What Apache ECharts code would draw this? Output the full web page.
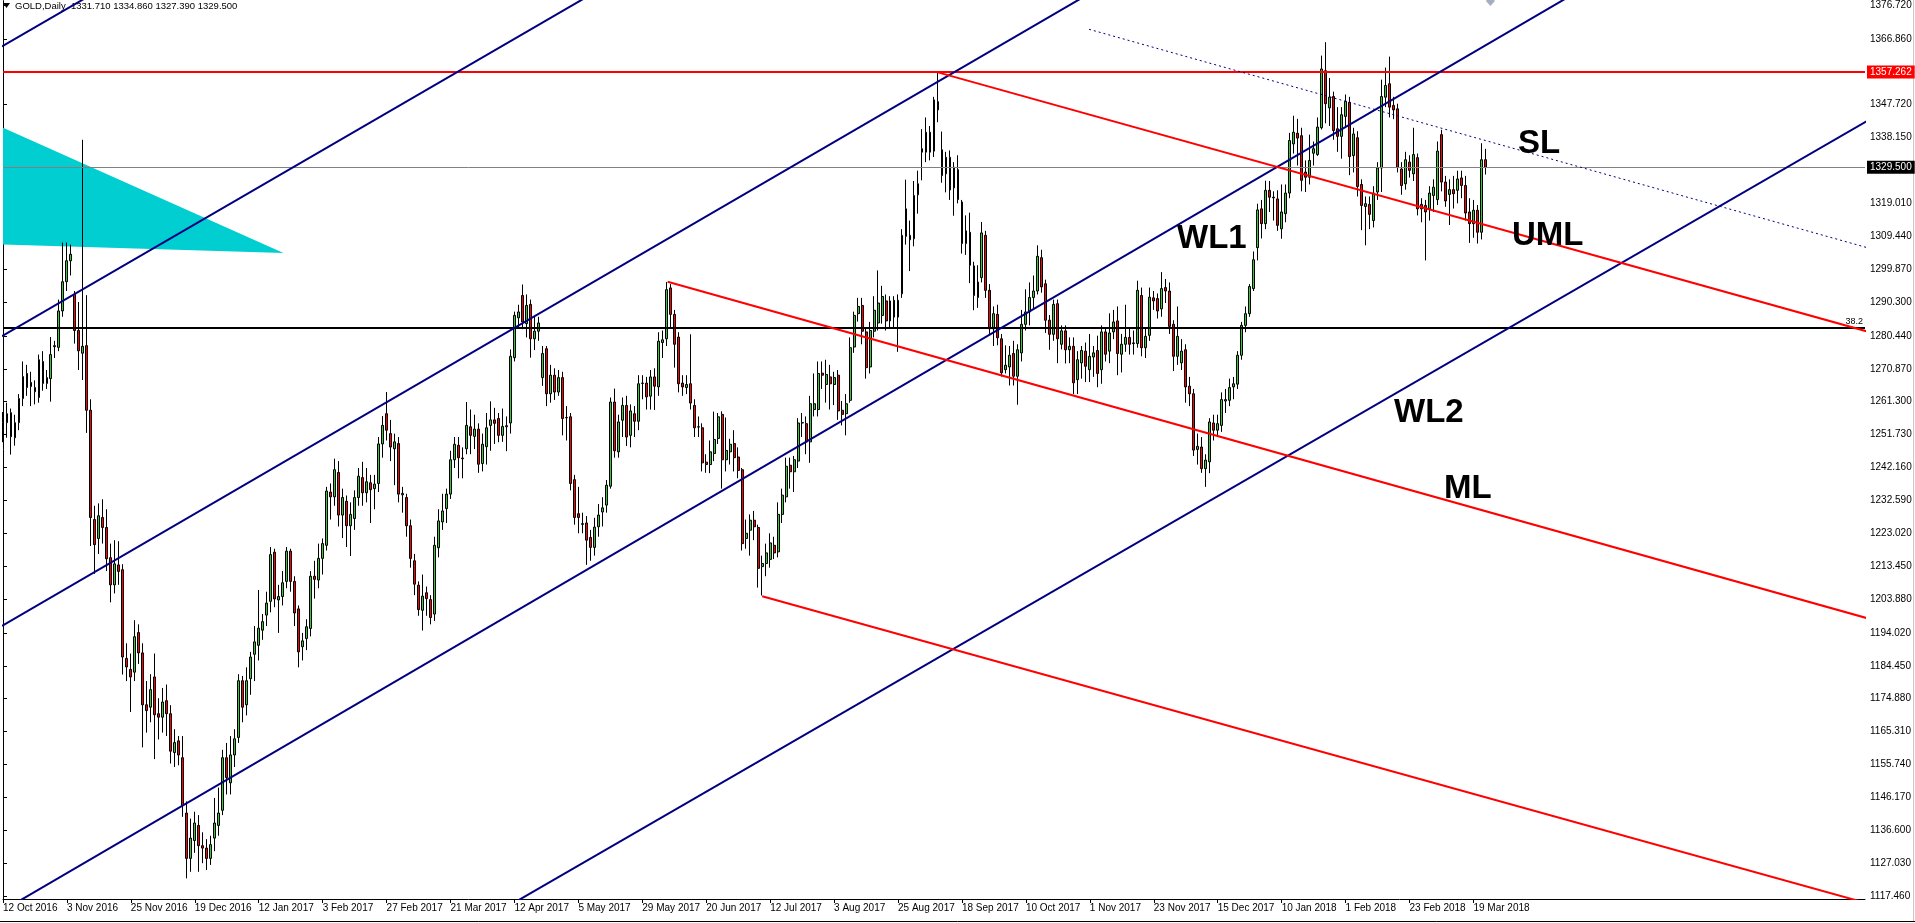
<!DOCTYPE html>
<html>
<head>
<meta charset="utf-8">
<script src="https://cdn.jsdelivr.net/npm/echarts@6/dist/echarts.min.js"></script>
<style>
  html, body { margin: 0; padding: 0; background: #fff; }
  #grafico { width: 1915px; height: 923px; }
</style>
</head>
<body>
<div id="grafico"></div>
<script>
// GOLD daily, 12 Oct 2016 - 22 Mar 2018, [open, close, low, high]
const candles2016 = [
  [1253.0,1255.2,1249.5,1258.3],[1255.2,1257.8,1250.8,1261.0],[1258.1,1251.1,1245.9,1259.3],[1250.8,1255.2,1248.5,1257.5],
  [1255.2,1262.2,1253.0,1263.5],[1262.2,1268.6,1260.0,1273.0],[1269.5,1265.4,1263.0,1272.0],[1265.7,1266.9,1260.0,1270.0],
  [1265.4,1264.2,1260.5,1267.5],[1262.5,1273.5,1261.0,1275.0],[1273.0,1266.6,1264.5,1276.0],[1266.6,1268.3,1265.0,1270.5],
  [1268.0,1275.0,1261.3,1280.1],[1277.3,1277.6,1274.0,1279.0],[1277.1,1287.7,1276.0,1291.0],[1287.7,1296.2,1286.0,1307.6],
  [1296.2,1302.3,1293.5,1307.6],[1302.3,1304.2,1298.0,1307.0],[1292.5,1282.0,1278.2,1293.5],[1282.0,1276.1,1270.5,1290.3],
  [1275.4,1277.4,1267.6,1337.5],[1277.6,1258.8,1252.2,1292.3],[1258.8,1227.6,1219.3,1262.0],[1227.0,1219.7,1211.2,1231.0],
  [1221.5,1228.1,1217.0,1231.7],[1227.6,1224.7,1220.0,1232.9],[1224.7,1215.6,1212.0,1230.0],[1215.9,1208.0,1202.9,1220.0],
  [1208.0,1214.1,1205.5,1221.0],[1213.8,1211.9,1208.0,1220.7],[1212.4,1187.0,1181.9,1214.0],[1186.6,1184.1,1180.0,1191.0],
  [1183.4,1181.2,1171.0,1188.0],[1182.6,1192.9,1180.0,1197.7],[1194.1,1188.2,1185.0,1196.5],[1188.2,1173.1,1160.7,1191.0],
  [1173.1,1171.4,1165.0,1180.0],[1172.4,1177.5,1168.0,1182.0],[1181.2,1170.2,1157.3,1188.0],[1170.5,1169.5,1163.0,1175.0],
  [1169.5,1173.9,1165.0,1178.0],[1174.3,1170.5,1164.0,1179.0],[1170.5,1159.6,1156.0,1173.0],[1159.2,1162.1,1155.0,1166.0],
  [1162.6,1158.5,1155.5,1164.0],[1157.7,1143.8,1140.5,1164.0],[1141.6,1128.4,1122.6,1145.0],[1128.4,1134.3,1124.5,1140.0],
  [1133.6,1138.7,1130.0,1142.0],[1138.0,1132.1,1124.5,1141.0],[1132.1,1131.4,1127.0,1136.0],[1131.4,1128.4,1125.0,1134.0],
  [1128.4,1132.4,1126.5,1135.0],[1134.3,1138.7,1130.5,1146.0],[1138.0,1141.6,1135.0,1149.0],[1142.4,1157.7,1141.0,1160.0],
  [1157.7,1151.9,1147.0,1162.0]
];
const candles2017 = [
  [1150.4,1158.5,1147.0,1164.0],[1158.5,1163.2,1155.0,1166.0],[1163.6,1180.1,1162.0,1182.0],[1180.1,1172.4,1168.0,1181.5],
  [1173.1,1180.1,1170.0,1184.0],[1180.7,1187.0,1176.0,1188.5],[1187.8,1191.4,1180.0,1196.0],[1190.4,1195.4,1186.0,1206.5],
  [1194.8,1197.3,1192.0,1199.5],[1199.2,1202.7,1196.0,1206.0],[1203.2,1216.8,1200.0,1219.0],[1217.5,1203.9,1201.5,1218.5],
  [1203.6,1204.6,1194.0,1208.0],[1204.6,1208.6,1202.0,1212.0],[1209.0,1217.8,1207.0,1219.0],[1217.8,1209.0,1206.0,1218.5],
  [1209.0,1199.8,1196.0,1210.5],[1201.0,1188.5,1184.0,1202.0],[1190.0,1191.7,1186.0,1194.0],[1192.4,1195.8,1189.0,1198.0],
  [1195.3,1210.5,1193.0,1212.0],[1210.5,1209.6,1204.0,1215.0],[1209.4,1215.7,1207.0,1220.0],[1215.7,1220.0,1211.0,1221.5],
  [1219.5,1235.3,1218.0,1236.5],[1235.0,1233.6,1227.0,1237.5],[1233.6,1241.5,1231.0,1244.7],[1240.7,1228.3,1225.0,1244.0],
  [1228.3,1233.4,1221.6,1236.0],[1232.3,1225.2,1219.0,1234.0],[1225.2,1228.5,1216.4,1232.0],[1227.3,1233.4,1224.0,1235.5],
  [1233.4,1239.6,1231.0,1242.0],[1239.2,1234.8,1231.0,1243.8],[1234.8,1238.0,1232.0,1242.0],[1237.7,1235.7,1226.0,1240.0],
  [1236.0,1237.3,1230.0,1240.0],[1237.5,1249.0,1235.0,1251.0],[1249.0,1254.4,1245.0,1257.1],[1257.8,1253.0,1250.0,1264.1],
  [1252.0,1248.1,1244.0,1256.0],[1247.6,1249.6,1237.0,1252.0],[1249.1,1234.4,1232.0,1251.0],[1234.2,1234.6,1229.0,1236.5],
  [1233.4,1225.2,1222.0,1234.5],[1225.2,1215.7,1213.0,1227.0],[1215.0,1208.2,1205.0,1217.0],[1207.9,1200.8,1199.0,1209.0],
  [1200.6,1204.7,1194.7,1211.0],[1205.7,1204.0,1199.0,1207.5],[1203.7,1198.5,1196.5,1205.0],[1199.5,1219.5,1197.5,1222.0],
  [1218.8,1226.6,1216.0,1230.0],[1226.3,1229.5,1224.0,1234.5],[1230.2,1234.4,1226.0,1236.0],[1234.4,1244.4,1233.0,1247.0],
  [1244.4,1248.9,1242.0,1251.0],[1248.6,1245.0,1239.0,1251.0],[1244.9,1244.7,1239.0,1248.0],[1247.6,1254.4,1246.0,1261.2],
  [1254.0,1251.5,1246.0,1259.0],[1251.2,1253.3,1247.5,1257.5],[1253.3,1243.1,1240.6,1255.0],[1243.3,1248.9,1241.0,1252.0],
  [1248.2,1253.7,1243.0,1258.0],[1254.4,1256.0,1247.0,1261.4],[1256.0,1255.0,1249.0,1259.5],[1256.4,1251.5,1249.5,1258.0],
  [1251.5,1254.1,1249.6,1259.3],[1254.0,1254.3,1246.9,1257.0],[1255.1,1274.5,1252.0,1276.5],[1274.1,1286.4,1273.0,1287.5],
  [1285.7,1287.4,1283.0,1289.5],[1292.2,1284.5,1282.4,1295.4],[1284.0,1289.3,1280.0,1292.5],[1289.6,1279.6,1274.1,1291.0],
  [1279.6,1281.8,1276.3,1286.0],[1281.8,1284.2,1279.0,1286.0],[1268.3,1275.3,1265.9,1277.5],[1276.7,1263.6,1260.0,1277.5],
  [1263.6,1269.0,1261.0,1272.0],[1269.0,1264.1,1261.8,1271.0],[1264.1,1268.3,1263.0,1270.5],[1268.3,1256.4,1251.5,1270.0],
  [1256.7,1256.6,1250.0,1260.0],[1256.9,1237.5,1235.5,1258.0],[1238.6,1227.6,1225.5,1240.0],[1228.7,1227.6,1223.0,1236.5],
  [1225.8,1225.6,1223.0,1229.0],[1226.0,1221.0,1213.8,1228.0],[1221.8,1218.9,1215.0,1224.0],[1218.9,1224.8,1216.5,1227.5],
  [1224.9,1228.3,1222.0,1231.5],[1229.2,1230.4,1225.0,1233.5],[1231.2,1237.0,1229.0,1238.5],[1236.7,1261.2,1236.0,1262.5],
  [1261.2,1247.0,1245.0,1265.1],[1246.7,1255.4,1245.0,1257.5],[1255.9,1260.2,1251.0,1262.5],[1260.2,1251.0,1248.4,1263.0],
  [1251.5,1258.6,1248.0,1260.5],[1257.8,1255.6,1251.0,1260.0],[1255.6,1266.5,1253.0,1269.0],[1266.6,1266.7,1262.0,1269.0],
  [1266.7,1262.7,1259.0,1268.5],[1262.9,1268.5,1259.0,1270.5],[1268.5,1265.8,1258.9,1271.0],[1265.6,1278.9,1263.0,1281.5],
  [1278.5,1279.3,1274.0,1282.0],[1279.6,1293.9,1277.5,1296.1],[1294.4,1286.7,1283.0,1295.5],[1286.7,1278.0,1271.2,1288.0],
  [1280.1,1266.5,1264.0,1281.5],[1266.7,1265.6,1263.0,1269.0],[1265.4,1266.3,1263.5,1269.0],[1266.5,1260.9,1259.0,1280.9],
  [1260.2,1253.7,1251.0,1262.0],[1254.0,1253.9,1251.0,1257.0],[1253.7,1243.5,1241.0,1255.0],[1243.7,1243.0,1240.6,1246.0],
  [1243.0,1246.7,1240.5,1250.0],[1246.2,1250.3,1244.0,1258.4],[1250.6,1256.9,1249.0,1258.0],[1257.6,1244.4,1236.0,1258.5],
  [1244.4,1247.1,1241.0,1256.7],[1246.7,1248.9,1243.0,1250.5],[1249.1,1245.0,1241.0,1253.0],[1245.2,1241.3,1239.0,1248.0],
  [1241.5,1220.0,1218.0,1242.0],[1221.5,1223.0,1218.5,1227.0],[1223.9,1226.8,1216.5,1228.5],[1226.8,1224.9,1221.0,1229.5],
  [1224.7,1212.8,1207.2,1225.5],[1213.3,1214.2,1204.9,1216.5],[1214.2,1217.3,1210.5,1220.0],[1215.4,1220.2,1213.0,1223.0],
  [1219.5,1217.3,1215.5,1222.0],[1217.6,1228.5,1216.0,1232.0],[1228.5,1234.1,1226.0,1236.0],[1233.6,1242.5,1232.0,1245.0],
  [1242.8,1240.9,1236.0,1245.0],[1240.9,1244.4,1235.0,1245.5],[1244.0,1255.1,1242.0,1256.5],[1255.1,1255.2,1251.0,1258.0],
  [1254.9,1249.6,1246.0,1257.0],[1249.6,1260.7,1243.5,1263.0],[1259.0,1260.7,1257.0,1269.5],[1259.0,1269.5,1257.0,1273.0],
  [1269.6,1269.0,1265.0,1273.0],[1266.3,1269.2,1261.0,1273.5],[1268.5,1266.5,1259.0,1272.0],[1266.3,1268.3,1260.3,1270.0],
  [1269.0,1258.6,1256.0,1270.5],[1258.8,1257.6,1254.4,1261.5],[1257.8,1260.7,1251.5,1263.5],[1261.7,1277.0,1261.0,1280.0],
  [1277.2,1286.4,1275.5,1287.5],[1286.9,1289.0,1284.6,1291.5],[1289.3,1281.8,1278.0,1291.5],[1281.6,1271.2,1268.0,1282.5],
  [1271.4,1282.0,1269.5,1284.5],[1281.8,1287.9,1280.0,1292.0],[1284.2,1290.0,1282.0,1299.5],[1286.4,1291.9,1284.0,1295.0],
  [1290.6,1284.8,1282.0,1292.5],[1284.8,1290.6,1282.5,1292.0],[1290.8,1285.9,1283.0,1292.0],[1285.9,1290.8,1275.8,1292.5],
  [1292.7,1309.7,1291.5,1311.5],[1317.4,1309.4,1307.0,1325.9],[1309.7,1308.4,1299.3,1314.0],[1308.7,1321.3,1306.5,1325.5],
  [1321.5,1324.7,1316.0,1328.5],[1334.9,1333.9,1325.7,1340.6],[1333.9,1339.7,1331.0,1344.0],[1339.7,1333.9,1331.5,1341.5],
  [1334.2,1349.1,1332.5,1350.0],[1348.6,1346.2,1342.6,1357.2],[1334.6,1327.1,1325.0,1339.9],[1327.6,1332.4,1322.2,1334.0],
  [1332.4,1322.9,1320.0,1334.4],[1323.5,1329.5,1315.4,1331.0],[1328.8,1320.1,1319.0,1333.0],[1319.4,1307.3,1304.4,1320.0],
  [1307.3,1311.0,1304.0,1315.5],[1310.6,1301.0,1295.8,1316.3],[1300.8,1292.2,1287.9,1302.0],[1291.6,1296.1,1288.6,1301.0],
  [1297.4,1310.4,1296.0,1313.6],[1309.7,1293.7,1291.5,1311.0],[1293.7,1282.5,1281.0,1295.5],[1282.5,1286.9,1277.5,1289.0],
  [1286.7,1279.9,1277.7,1289.5],[1279.6,1269.7,1268.6,1281.0],[1270.6,1271.9,1269.5,1277.7],[1271.4,1274.8,1266.0,1277.5],
  [1275.3,1268.7,1266.0,1279.0],[1268.7,1276.4,1260.4,1278.0],[1275.5,1283.8,1273.0,1288.0],[1283.8,1287.4,1282.0,1294.0],
  [1287.4,1291.6,1283.5,1296.0],[1291.6,1293.5,1288.0,1298.0],[1293.5,1303.6,1292.5,1306.8],[1303.2,1294.7,1293.0,1305.5],
  [1295.6,1285.0,1281.3,1296.8],[1285.0,1280.9,1276.4,1286.5],[1280.9,1289.6,1279.0,1291.0],[1289.8,1279.6,1272.5,1291.0],
  [1278.0,1281.9,1276.5,1283.5],[1281.9,1276.4,1272.4,1283.5],[1276.4,1277.4,1272.5,1280.0],[1277.4,1266.8,1263.5,1280.0],
  [1267.7,1273.5,1263.5,1276.0],[1272.6,1276.2,1268.0,1277.5],[1276.0,1271.6,1267.0,1278.5],[1270.6,1274.5,1267.0,1281.0],
  [1274.3,1275.5,1268.5,1277.5],[1276.2,1269.5,1265.5,1280.5],[1270.6,1281.6,1266.5,1283.5],[1281.6,1275.1,1273.0,1283.0],
  [1276.0,1281.3,1272.5,1287.0],[1281.6,1284.5,1279.5,1288.0],[1284.8,1275.3,1269.0,1289.0],[1275.1,1278.0,1269.8,1281.0],
  [1278.0,1280.0,1275.8,1289.5],[1280.0,1278.0,1275.0,1283.0],[1278.4,1278.2,1275.0,1282.0],[1278.2,1293.7,1277.0,1296.5],
  [1292.2,1277.0,1274.5,1294.5],[1277.0,1280.3,1274.0,1283.0],[1280.6,1291.7,1279.0,1294.5],[1291.5,1290.6,1288.0,1293.5],
  [1291.3,1287.7,1285.5,1292.8],[1288.3,1294.2,1286.0,1299.0],[1294.5,1293.5,1290.0,1297.0],[1293.5,1283.2,1281.0,1296.0],
  [1283.8,1274.5,1270.2,1285.0],[1274.5,1280.3,1272.0,1289.0],[1272.6,1276.0,1270.5,1279.5],[1276.4,1265.6,1261.0,1278.0],
  [1265.8,1263.6,1260.0,1268.5],[1263.6,1247.2,1245.5,1265.0],[1247.4,1248.3,1243.0,1252.0],[1248.1,1241.8,1240.6,1251.0],
  [1241.8,1244.3,1236.5,1246.0],[1243.8,1255.4,1240.5,1256.5],[1255.1,1253.0,1250.0,1257.5],[1253.0,1254.9,1251.0,1257.5],
  [1254.4,1261.9,1252.5,1264.0],[1261.5,1261.9,1258.0,1265.0],[1261.7,1265.4,1260.0,1268.0],[1265.6,1266.5,1262.0,1268.5],
  [1266.4,1274.8,1265.0,1276.0],[1274.8,1283.5,1273.5,1284.5],[1283.5,1286.9,1281.5,1289.0],[1286.9,1294.8,1286.0,1295.5],
  [1294.2,1302.6,1293.5,1305.0]
];
const candles2018 = [
  [1306.1,1317.1,1302.4,1318.9],[1317.4,1313.1,1308.8,1320.0],[1313.1,1322.8,1311.5,1325.6],[1322.8,1320.8,1316.5,1325.5],
  [1320.8,1320.6,1314.0,1322.5],[1320.3,1312.6,1311.0,1322.8],[1311.6,1316.5,1308.7,1324.5],[1316.0,1322.0,1313.5,1324.5],
  [1322.0,1337.3,1320.5,1339.5],[1336.3,1339.7,1333.5,1344.5],[1339.4,1338.0,1330.0,1343.6],[1338.7,1325.7,1322.5,1341.0],
  [1328.1,1326.6,1322.3,1331.5],[1326.6,1331.5,1324.5,1339.0],[1333.6,1334.9,1330.0,1337.0],[1333.2,1341.2,1332.8,1344.0],
  [1341.0,1358.1,1340.5,1362.0],[1357.6,1348.0,1342.3,1365.9],[1346.8,1349.9,1341.5,1355.5],[1350.1,1340.2,1337.5,1351.5],
  [1340.7,1338.5,1334.0,1347.0],[1338.5,1344.8,1332.0,1347.0],[1344.3,1348.7,1341.0,1350.7],[1348.4,1332.6,1327.2,1350.0],
  [1332.9,1339.2,1328.0,1341.0],[1338.1,1323.9,1321.0,1340.0],[1324.5,1318.4,1311.2,1326.0],[1318.1,1318.9,1306.8,1321.0],
  [1318.7,1315.8,1311.5,1321.0],[1314.0,1322.0,1312.0,1324.0],[1322.3,1329.3,1320.0,1331.0],[1329.3,1350.1,1322.3,1355.0],
  [1349.9,1353.3,1347.0,1358.5],[1353.8,1347.0,1344.0,1361.7],[1347.5,1346.2,1343.5,1350.0],[1346.5,1329.5,1328.0,1348.0],
  [1329.0,1324.2,1321.5,1331.0],[1324.7,1331.7,1323.0,1334.0],[1331.0,1328.6,1326.5,1333.0],[1327.6,1333.2,1325.5,1341.0],
  [1332.3,1317.4,1315.5,1333.5],[1318.7,1317.4,1313.5,1320.5],[1318.4,1316.5,1302.4,1320.0],[1317.4,1322.0,1314.0,1324.0],
  [1321.3,1323.7,1316.5,1326.0],[1320.1,1334.2,1318.5,1337.0],[1339.0,1325.2,1322.5,1340.4],[1325.2,1319.7,1318.0,1327.0],
  [1321.6,1323.0,1312.7,1326.0],[1323.0,1321.8,1317.5,1327.0],[1322.8,1326.1,1319.0,1328.5],[1326.4,1324.2,1320.5,1328.5],
  [1324.2,1316.2,1314.0,1327.0],[1316.5,1313.1,1307.5,1320.5],[1313.1,1317.0,1309.0,1320.0],[1317.0,1310.6,1307.3,1318.5],
  [1310.6,1331.7,1308.5,1336.5],[1331.71,1329.5,1327.39,1334.86]
];

// date labels, one every 16 bars
const dateTicks = [
  "12 Oct 2016", "3 Nov 2016", "25 Nov 2016", "19 Dec 2016", "12 Jan 2017", "3 Feb 2017",
  "27 Feb 2017", "21 Mar 2017", "12 Apr 2017", "5 May 2017", "29 May 2017", "20 Jun 2017",
  "12 Jul 2017", "3 Aug 2017", "25 Aug 2017", "18 Sep 2017", "10 Oct 2017", "1 Nov 2017",
  "23 Nov 2017", "15 Dec 2017", "10 Jan 2018", "1 Feb 2018", "23 Feb 2018", "19 Mar 2018"
];

// price scale labels as printed by the terminal
const priceTicks = [
  1117.46, 1127.03, 1136.6, 1146.17, 1155.74, 1165.31, 1174.88, 1184.45, 1194.02, 1203.88,
  1213.45, 1223.02, 1232.59, 1242.16, 1251.73, 1261.3, 1270.87, 1280.44, 1290.3, 1299.87,
  1309.44, 1319.01, 1328.58, 1338.15, 1347.72, 1357.29, 1366.86, 1376.72
];

// horizontal levels
const resistanceLevel = 1357.262;
const lastPrice = 1329.5;
const fibLevel = 1282.82;

// drawn objects, as [bar index, price]
const channelD = [[-0.25, 1364.65], [24.75, 1381.52]];
const channelB = [[-0.25, 1280.35], [149.75, 1381.54]];
const channelC = [[-0.25, 1196.06], [274.75, 1381.98]];
const channelA = [[-0.25, 1113.10], [394.75, 1381.08]];
const channelE = [[124.75, 1113.38], [467.25, 1343.44]];
const forkUpper = [[234, 1357.12], [467.25, 1281.51]];
const forkMedian = [[166.33, 1296.2], [467.25, 1198.06]];
const forkLower = [[190, 1204.69], [467.25, 1115.1]];
const slDotted = [[271.8, 1369.65], [467.25, 1305.88]];
const cyanTriangle = [[-1, 1341.5], [70.2, 1304.55], [-1, 1307.1]];
const arrowMark = [[372.25, 1377.9]];

const candles = candles2016.concat(candles2017, candles2018);

// 467 slots, about 4px each, chart shifted to the right
const nSlots = 467;
const categories = [];
for (let i = 0; i < nSlots; i++) {
  categories.push(i % 16 === 0 && dateTicks[i / 16] ? dateTicks[i / 16] : "");
}

const FONT = "Liberation Sans";

function trendLine(data, color, width, type) {
  return {
    type: "line",
    xAxisIndex: 1,
    data: data,
    symbol: "none",
    silent: true,
    clip: true,
    z: 5,
    lineStyle: { color: color, width: width, type: type || "solid" },
  };
}

const contenedor = document.getElementById("grafico");
const myChart = echarts.init(contenedor);

const option = {
  animation: false,
  backgroundColor: "#fff",
  textStyle: { fontFamily: FONT },
  grid: { left: 0, right: 50, top: 0, bottom: 24 },
  xAxis: [
    {
      type: "category",
      data: categories,
      boundaryGap: false,
      axisLine: { lineStyle: { color: "#000", width: 1 } },
      axisTick: {
        show: true,
        length: 4,
        interval: (idx, val) => val !== "",
        lineStyle: { color: "#000" },
      },
      axisLabel: {
        interval: (idx, val) => val !== "",
        align: "left",
        margin: 4,
        color: "#000",
        fontSize: 10,
        fontFamily: FONT,
      },
      splitLine: { show: false },
    },
    { type: "value", min: 0, max: 466, show: false, position: "top" },
  ],
  yAxis: {
    type: "value",
    position: "right",
    min: 1116.586,
    max: 1377.997,
    axisLine: { show: true, lineStyle: { color: "#000", width: 1 } },
    axisTick: { show: true, length: 4, customValues: priceTicks, lineStyle: { color: "#000" } },
    axisLabel: {
      customValues: priceTicks,
      formatter: (v) => v.toFixed(3),
      color: "#000",
      fontSize: 10,
      margin: 5,
      fontFamily: FONT,
    },
    splitLine: { show: false },
  },
  graphic: [
    { type: "polygon", shape: { points: [[3, 3], [10, 3], [6.5, 8]] }, style: { fill: "#000" } },
    { type: "text", x: 15, y: 6, style: { text: "GOLD,Daily  1331.710 1334.860 1327.390 1329.500", font: "9.5px Liberation Sans", fill: "#000", textVerticalAlign: "middle" } },
    { type: "text", x: 1177, y: 239, z: 10, style: { text: "WL1", font: "bold 33px Liberation Sans", fill: "#000", textVerticalAlign: "middle" } },
    { type: "text", x: 1512, y: 236, z: 10, style: { text: "UML", font: "bold 33px Liberation Sans", fill: "#000", textVerticalAlign: "middle" } },
    { type: "text", x: 1518, y: 144, z: 10, style: { text: "SL", font: "bold 33px Liberation Sans", fill: "#000", textVerticalAlign: "middle" } },
    { type: "text", x: 1394, y: 413, z: 10, style: { text: "WL2", font: "bold 33px Liberation Sans", fill: "#000", textVerticalAlign: "middle" } },
    { type: "text", x: 1444, y: 489, z: 10, style: { text: "ML", font: "bold 33px Liberation Sans", fill: "#000", textVerticalAlign: "middle" } },
    { type: "line", shape: { x1: 0, y1: 921.5, x2: 1915, y2: 921.5 }, style: { stroke: "#000", lineWidth: 1 } },
    { type: "line", shape: { x1: 1913.5, y1: 0, x2: 1913.5, y2: 921 }, style: { stroke: "#c8c8c8", lineWidth: 1 } },
  ],
  series: [
    {
      // filled triangle sits behind the bars
      type: "custom",
      xAxisIndex: 1,
      clip: true,
      silent: true,
      z: 1,
      data: [[0, 1300]],
      renderItem: function (params, api) {
        return {
          type: "polygon",
          shape: { points: cyanTriangle.map((p) => api.coord(p)) },
          style: { fill: "#00ced1" },
        };
      },
    },
    {
      type: "candlestick",
      xAxisIndex: 0,
      data: candles,
      barWidth: 2.4,
      silent: true,
      z: 3,
      itemStyle: {
        color: "#32cd32",
        color0: "#ff0000",
        borderColor: "#000",
        borderColor0: "#000",
        borderWidth: 1,
      },
    },
    Object.assign(trendLine(channelD, "#000080", 2), {
      markLine: {
        symbol: "none",
        silent: true,
        animation: false,
        data: [
          {
            yAxis: resistanceLevel,
            lineStyle: { color: "#ff0000", width: 2, type: "solid" },
            label: { show: true, position: "end", distance: 2, formatter: resistanceLevel.toFixed(3), color: "#fff", backgroundColor: "#ff0000", padding: [2, 3, 1, 3], fontSize: 10, fontFamily: FONT },
          },
          {
            yAxis: lastPrice,
            lineStyle: { color: "#808080", width: 1, type: "solid" },
            label: { show: true, position: "end", distance: 2, formatter: lastPrice.toFixed(3), color: "#fff", backgroundColor: "#000", padding: [2, 3, 1, 3], fontSize: 10, fontFamily: FONT },
          },
          {
            yAxis: fibLevel,
            lineStyle: { color: "#000", width: 2, type: "solid" },
            label: { show: true, position: "insideEndTop", distance: 2, formatter: "38.2", color: "#000", fontSize: 9, fontFamily: FONT },
          },
        ],
      },
    }),
    trendLine(channelB, "#000080", 2),
    trendLine(channelC, "#000080", 2),
    trendLine(channelA, "#000080", 2),
    trendLine(channelE, "#000080", 2),
    trendLine(forkUpper, "#ff0000", 2),
    trendLine(forkMedian, "#ff0000", 2),
    trendLine(forkLower, "#ff0000", 2),
    trendLine(slDotted, "#000080", 1, [2, 3]),
    {
      type: "scatter",
      xAxisIndex: 1,
      data: arrowMark,
      symbol: "diamond",
      symbolSize: [9, 10],
      silent: true,
      z: 4,
      itemStyle: { color: "#8c9bb0" },
    },
  ],
};

myChart.setOption(option);
</script>
</body>
</html>
